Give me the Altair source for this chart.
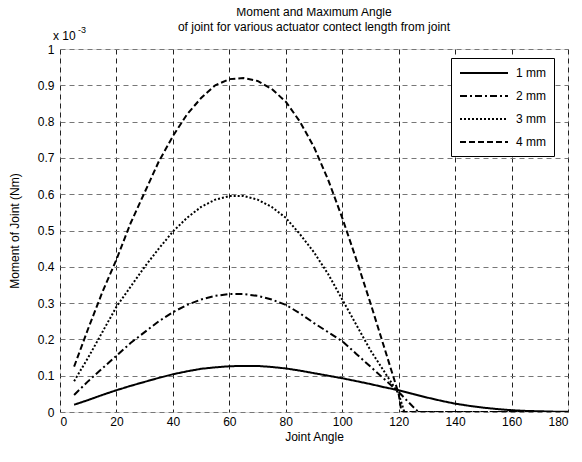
import altair as alt
import pandas as pd

# Joint angle samples (degrees)
x_1mm = [5, 10, 15, 20, 25, 30, 35, 40, 45, 50, 55, 60, 65, 70, 75, 80, 85, 90, 95, 100,
         105, 110, 115, 120, 125, 130, 135, 140, 145, 150, 155, 160, 165, 170, 175, 180]
y_1mm = [0.020, 0.033, 0.047, 0.060, 0.072, 0.083, 0.094, 0.104, 0.112, 0.119, 0.123, 0.126,
         0.127, 0.127, 0.124, 0.120, 0.114, 0.107, 0.100, 0.093, 0.085, 0.077, 0.068, 0.060,
         0.050, 0.040, 0.031, 0.023, 0.017, 0.012, 0.008, 0.005, 0.003, 0.002, 0.001, 0.0005]

x_2mm = [5, 10, 15, 20, 25, 30, 35, 40, 45, 50, 55, 60, 65, 70, 75, 80, 85, 90, 95, 100,
         105, 110, 115, 120, 125, 127, 180]
y_2mm = [0.047, 0.085, 0.120, 0.155, 0.190, 0.220, 0.250, 0.275, 0.295, 0.310, 0.320, 0.325,
         0.325, 0.320, 0.310, 0.295, 0.272, 0.245, 0.220, 0.195, 0.160, 0.125, 0.090, 0.055,
         0.015, 0.0, 0.0]

x_3mm = [5, 10, 15, 20, 25, 30, 35, 40, 45, 50, 55, 60, 65, 70, 75, 80, 85, 90, 95, 100,
         105, 110, 115, 120, 122, 180]
y_3mm = [0.085, 0.150, 0.220, 0.290, 0.345, 0.400, 0.450, 0.497, 0.535, 0.565, 0.585, 0.595,
         0.595, 0.585, 0.565, 0.535, 0.490, 0.440, 0.380, 0.310, 0.240, 0.170, 0.110, 0.050,
         0.0, 0.0]

x_4mm = [5, 10, 15, 20, 25, 30, 35, 40, 45, 50, 55, 60, 65, 70, 75, 80, 85, 90, 95, 100,
         105, 110, 115, 120, 121, 180]
y_4mm = [0.125, 0.230, 0.330, 0.420, 0.520, 0.605, 0.690, 0.760, 0.820, 0.865, 0.900, 0.917,
         0.920, 0.912, 0.890, 0.855, 0.800, 0.730, 0.640, 0.535, 0.420, 0.300, 0.175, 0.050,
         0.0, 0.0]

series_names = ["1 mm", "2 mm", "3 mm", "4 mm"]
x_ticks = [0, 20, 40, 60, 80, 100, 120, 140, 160, 180]
y_ticks = [0, 0.1, 0.2, 0.3, 0.4, 0.5, 0.6, 0.7, 0.8, 0.9, 1.0]

rows = []
for name, xs, ys in zip(series_names, [x_1mm, x_2mm, x_3mm, x_4mm],
                        [y_1mm, y_2mm, y_3mm, y_4mm]):
    for i, (a, b) in enumerate(zip(xs, ys)):
        rows.append({"angle": a, "moment": b, "series": name, "order": i})
df = pd.DataFrame(rows)

FONT = "Liberation Sans"
FS = 12

x_enc = alt.X("angle:Q", scale=alt.Scale(domain=[0, 180], nice=False),
              axis=alt.Axis(values=x_ticks, title="Joint Angle", grid=True,
                            gridDash=[5, 4], gridColor="#222222", gridOpacity=1,
                            gridWidth=1, domain=False, ticks=False,
                            labelFontSize=FS, labelColor="black", labelPadding=4,
                            titleFontSize=FS, titleFontWeight="normal",
                            titleColor="black", titlePadding=4, labelFont=FONT,
                            titleFont=FONT))
y_enc = alt.Y("moment:Q", scale=alt.Scale(domain=[0, 1], nice=False),
              axis=alt.Axis(values=y_ticks, format="~g", title="Moment of Joint (Nm)",
                            grid=True, gridDash=[5, 4], gridColor="#777777",
                            gridOpacity=1, gridWidth=1, domain=False, ticks=False,
                            labelFontSize=FS, labelColor="black", labelPadding=6,
                            titleFontSize=FS, titleFontWeight="normal",
                            titleColor="black", titlePadding=16, labelFont=FONT,
                            titleFont=FONT))

lines = alt.Chart(df).mark_line(color="black", strokeWidth=2, clip=True).encode(
    x=x_enc,
    y=y_enc,
    order="order:Q",
    strokeDash=alt.StrokeDash(
        "series:N",
        scale=alt.Scale(domain=series_names,
                        range=[[1, 0], [7, 3, 2, 3], [2, 2], [6, 3]]),
        legend=alt.Legend(title=None, orient="none", legendX=391, legendY=9,
                          symbolType="M-4,0H4", symbolSize=144,
                          symbolStrokeWidth=2, symbolStrokeColor="black",
                          symbolOffset=18,
                          labelFontSize=FS, labelFont=FONT, labelColor="black",
                          strokeColor="black", fillColor="white", padding=8,
                          rowPadding=10, labelOffset=25, cornerRadius=0),
    ),
)

exp_base = alt.Chart(pd.DataFrame({"t": ["x 10"]})).mark_text(
    align="left", baseline="alphabetic", fontSize=FS, font=FONT, color="black"
).encode(x=alt.value(-7), y=alt.value(-9), text="t:N")
exp_sup = alt.Chart(pd.DataFrame({"t": ["-3"]})).mark_text(
    align="left", baseline="alphabetic", fontSize=9, font=FONT, color="black"
).encode(x=alt.value(18), y=alt.value(-16), text="t:N")

chart = alt.layer(lines, exp_base, exp_sup).properties(
    width=508,
    height=363,
    autosize=alt.AutoSizeParams(type="none"),
    padding={"left": 52, "top": 41, "right": 6, "bottom": 42},
    title=alt.Title(["Moment and Maximum Angle",
                     "of joint for various actuator contect length from joint"],
                    fontSize=FS, font=FONT, fontWeight="normal", color="black",
                    anchor="middle", offset=-8, lineHeight=15),
).configure_view(stroke="black", strokeWidth=1.5).configure(background="white")

chart.save("out.html", embed_options={"renderer": "svg", "actions": False})
